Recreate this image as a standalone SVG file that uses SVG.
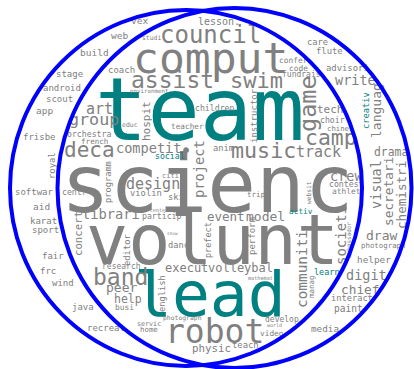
<svg xmlns="http://www.w3.org/2000/svg" width="414" height="369" viewBox="0 0 414 369">
  <style>
    .w { font-family: "DejaVu Sans Mono", "Liberation Mono", monospace; fill: #808080; }
    .t { fill: #008080; }
    .ring { fill: none; stroke: #0000ff; stroke-width: 4; }
  </style>
  <rect width="414" height="369" fill="#ffffff"/>

  <!-- word cloud -->
  <g id="words" class="w">
    <!-- large terms -->
    <text x="61" y="212" font-size="81">scienc</text>
    <text x="86" y="264" font-size="70">volunt</text>
    <text class="t" x="95" y="140" font-size="87">team</text>
    <text class="t" x="134" y="316" font-size="63">lead</text>
    <text x="133" y="73" font-size="43">comput</text>
    <text x="165" y="343" font-size="33">robot</text>
    <text x="160" y="43" font-size="24">council</text>
    <text x="131" y="88" font-size="23">assist</text>
    <text x="230" y="88" font-size="22">swim</text>
    <text x="231" y="158" font-size="21.7">music</text>
    <text x="64" y="157" font-size="21">deca</text>
    <text x="305" y="145" font-size="21.4">camp</text>
    <text x="93" y="285" font-size="23">band</text>
    <text transform="translate(316,132) rotate(-90)" font-size="23.5">game</text>

    <!-- medium terms -->
    <text x="69" y="125" font-size="16.7">group</text>
    <text x="86" y="114" font-size="15">art</text>
    <text x="116" y="153" font-size="13.6">competit</text>
    <text x="180" y="157" font-size="20">•</text>
    <text x="126" y="189" font-size="15">design</text>
    <text x="82" y="219" font-size="13.7">librari</text>
    <text x="296" y="157" font-size="15">track</text>
    <text x="330" y="181" font-size="13.5">crew</text>
    <text x="207" y="221" font-size="12.5">event</text>
    <text x="246" y="221" font-size="13">model</text>
    <text x="165" y="272" font-size="12">execut</text>
    <text x="208" y="272" font-size="12">volleybal</text>
    <text x="106" y="292" font-size="13">peer</text>
    <text x="114" y="303" font-size="11.5">help</text>
    <text x="192" y="352" font-size="10.8">physic</text>
    <text x="346" y="280" font-size="13.5">digit</text>
    <text x="341" y="294" font-size="12.8">chief</text>
    <text x="366" y="240" font-size="13">draw</text>
    <text x="374" y="156" font-size="11.4">drama</text>
    <text x="335" y="85" font-size="13.5">write</text>
    <text x="317" y="113" font-size="11">tech</text>
    <text x="198" y="25" font-size="10">lesson.</text>

    <!-- vertical terms -->
    <text transform="translate(150,141) rotate(-90)" font-size="11">hospit</text>
    <text transform="translate(257,143) rotate(-90)" font-size="9">instructor</text>
    <text transform="translate(381,138) rotate(-90)" font-size="13">languag</text>
    <text class="t" transform="translate(369,129) rotate(-90)" font-size="8.75">creativ</text>
    <text transform="translate(381,209) rotate(-90)" font-size="13.5">visual</text>
    <text transform="translate(393,226) rotate(-90)" font-size="12.8">secretari</text>
    <text transform="translate(406,229) rotate(-90)" font-size="12.6">chemistri</text>
    <text transform="translate(346,265) rotate(-90)" font-size="14">societi</text>
    <text transform="translate(351,258) rotate(-90)" font-size="6">ambassador</text>
    <text transform="translate(307,308) rotate(-90)" font-size="14.4">communiti</text>
    <text transform="translate(311,204) rotate(-90)" font-size="6.2">websit</text>
    <text transform="translate(314,298) rotate(-90)" font-size="7.5">manag</text>
    <text transform="translate(204,198) rotate(-90)" font-size="13.7">project</text>
    <text transform="translate(211,258) rotate(-90)" font-size="8.5">prefect</text>
    <text transform="translate(255,255) rotate(-90)" font-size="9">perform</text>
    <text transform="translate(165,312) rotate(-90)" font-size="8.75">english</text>
    <text transform="translate(130,266) rotate(-90)" font-size="8.8">editor</text>
    <text transform="translate(82,256) rotate(-90)" font-size="10.7">concert</text>
    <text transform="translate(111,203) rotate(-90)" font-size="8.7">programm</text>
    <text transform="translate(55,179) rotate(-90)" font-size="8.9">royal</text>

    <!-- small terms -->
    <text x="131" y="24" font-size="9.5">vex</text>
    <text x="111" y="39" font-size="9.5">web</text>
    <text x="80" y="56" font-size="9.5">build</text>
    <text x="108" y="73" font-size="9">coach</text>
    <text x="56" y="77" font-size="9">stage</text>
    <text x="43" y="91" font-size="9">android</text>
    <text x="46" y="102" font-size="9">scout</text>
    <text x="36" y="114" font-size="9.5">app</text>
    <text x="23" y="140" font-size="9">frisbe</text>
    <text x="15" y="195" font-size="9">softwar</text>
    <text x="33" y="210" font-size="9.5">aid</text>
    <text x="30" y="224" font-size="9">karat</text>
    <text x="32" y="233" font-size="9">sport</text>
    <text x="42" y="259" font-size="9">fair</text>
    <text x="40" y="274" font-size="9">frc</text>
    <text x="52" y="286" font-size="9">wind</text>
    <text x="72" y="310" font-size="9">java</text>
    <text x="87" y="331" font-size="9">recreat</text>
    <text x="122" y="127" font-size="6.5">educ</text>
    <text x="130" y="93" font-size="5.8">environment</text>
    <text x="67" y="137" font-size="8.2">orchestra</text>
    <text x="81" y="144" font-size="7.6">french</text>
    <text x="142" y="40" font-size="6.4">studi</text>
    <text x="195" y="111" font-size="8.2">children</text>
    <text x="171" y="129" font-size="7.75">teacher</text>
    <text class="t" x="155" y="159" font-size="8.2">social</text>
    <text x="213" y="151" font-size="8.7">anim</text>
    <text x="62" y="195" font-size="8.2">centr</text>
    <text x="130" y="196" font-size="8.8">violin</text>
    <text x="162" y="178" font-size="7">citi</text>
    <text x="168" y="200" font-size="8.7">ski</text>
    <text x="247" y="197" font-size="7.5">trip</text>
    <text x="150" y="212" font-size="5">center</text>
    <text x="142" y="219" font-size="8.2">particip</text>
    <text x="167" y="235" font-size="4.4">show</text>
    <text x="168" y="248" font-size="8.7">danc</text>
    <text x="307" y="45" font-size="8.7">care</text>
    <text x="316" y="54" font-size="8.9">flute</text>
    <text x="279" y="63" font-size="7.9">confer</text>
    <text x="289" y="71" font-size="7.9">code</text>
    <text x="282" y="77" font-size="8">fundrais</text>
    <text x="326" y="71" font-size="8.9">advisori</text>
    <text x="320" y="123" font-size="8.2">choir</text>
    <text x="327" y="131" font-size="7.3">chines</text>
    <text x="329" y="187" font-size="8.2">contest</text>
    <text x="332" y="194" font-size="7.9">athlet</text>
    <text class="t" x="289" y="214" font-size="7.8">activ</text>
    <text x="361" y="248" font-size="7.4">photograph</text>
    <text x="357" y="263" font-size="9.4">helper</text>
    <text class="t" x="314" y="275" font-size="8.5">learn</text>
    <text x="331" y="301" font-size="8.7">interact</text>
    <text x="334" y="312" font-size="9.6">paint</text>
    <text x="311" y="332" font-size="9.3">media</text>
    <text x="265" y="322" font-size="8">develop</text>
    <text x="267" y="327" font-size="5">world</text>
    <text x="260" y="336" font-size="7.8">video</text>
    <text x="232" y="348" font-size="8.9">teach</text>
    <text x="248" y="280" font-size="5.2">mathemat</text>
    <text x="163" y="320" font-size="6.4">photograph</text>
    <text x="137" y="326" font-size="6.7">servic</text>
    <text x="140" y="332" font-size="7.4">home</text>
    <text x="115" y="310" font-size="7.9">busi</text>
    <text x="102" y="269" font-size="8">research</text>
  </g>

  <!-- two overlapping set outlines -->
  <g id="sets">
    <ellipse id="set-left" class="ring" cx="186" cy="188" rx="176" ry="178"/>
    <ellipse id="set-right" class="ring" cx="234.5" cy="188" rx="177" ry="180"/>
  </g>
</svg>
